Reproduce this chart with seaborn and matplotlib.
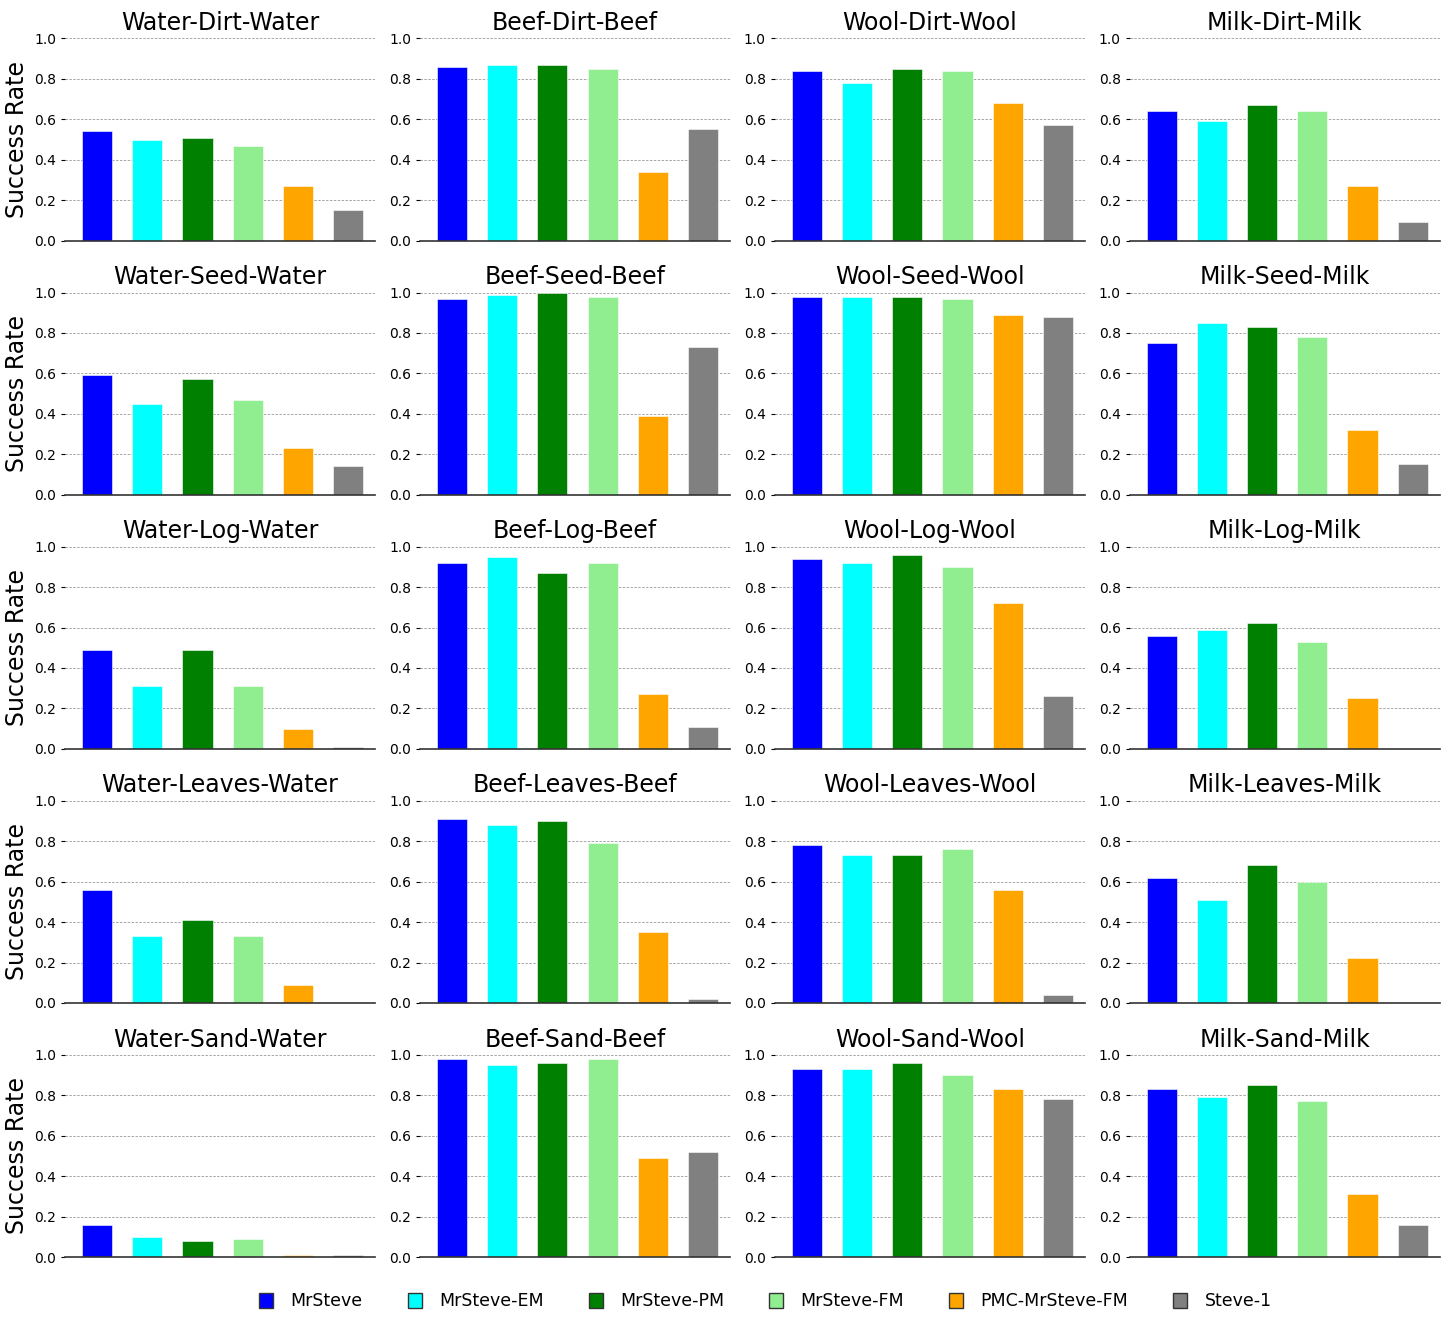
import numpy as np
import pandas as pd
import seaborn as sns
import matplotlib.pyplot as plt
from matplotlib.patches import Patch

methods = ['MrSteve', 'MrSteve-EM', 'MrSteve-PM', 'MrSteve-FM', 'PMC-MrSteve-FM', 'Steve-1']
colors = ['blue', 'cyan', 'green', 'lightgreen', 'orange', 'gray']

row_items = ['Water', 'Beef', 'Wool', 'Milk']
mid_items = ['Dirt', 'Seed', 'Log', 'Leaves', 'Sand']

# 成功率 (行: 中間アイテム, 列: 対象)
dirt_vals = [
    [0.54, 0.50, 0.51, 0.47, 0.27, 0.15],
    [0.86, 0.87, 0.87, 0.85, 0.34, 0.55],
    [0.84, 0.78, 0.85, 0.84, 0.68, 0.57],
    [0.64, 0.59, 0.67, 0.64, 0.27, 0.09],
]
seed_vals = [
    [0.59, 0.45, 0.57, 0.47, 0.23, 0.14],
    [0.97, 0.99, 1.00, 0.98, 0.39, 0.73],
    [0.98, 0.98, 0.98, 0.97, 0.89, 0.88],
    [0.75, 0.85, 0.83, 0.78, 0.32, 0.15],
]
log_vals = [
    [0.49, 0.31, 0.49, 0.31, 0.10, 0.01],
    [0.92, 0.95, 0.87, 0.92, 0.27, 0.11],
    [0.94, 0.92, 0.96, 0.90, 0.72, 0.26],
    [0.56, 0.59, 0.62, 0.53, 0.25, 0.00],
]
leaves_vals = [
    [0.56, 0.33, 0.41, 0.33, 0.09, 0.00],
    [0.91, 0.88, 0.90, 0.79, 0.35, 0.02],
    [0.78, 0.73, 0.73, 0.76, 0.56, 0.04],
    [0.62, 0.51, 0.68, 0.60, 0.22, 0.00],
]
sand_vals = [
    [0.16, 0.10, 0.08, 0.09, 0.01, 0.01],
    [0.98, 0.95, 0.96, 0.98, 0.49, 0.52],
    [0.93, 0.93, 0.96, 0.90, 0.83, 0.78],
    [0.83, 0.79, 0.85, 0.77, 0.31, 0.16],
]
all_vals = [dirt_vals, seed_vals, log_vals, leaves_vals, sand_vals]

sns.set_style('white')
plt.rcParams['font.family'] = ['DejaVu Sans']
plt.rcParams['text.color'] = 'black'
plt.rcParams['axes.labelcolor'] = 'black'
plt.rcParams['ytick.color'] = 'black'

fig, axes = plt.subplots(5, 4, figsize=(14.47, 13.26), dpi=100)
fig.subplots_adjust(left=0.045, right=0.995, top=0.971, bottom=0.052,
                    wspace=0.145, hspace=0.257)

for i, mid in enumerate(mid_items):
    for j, item in enumerate(row_items):
        ax = axes[i, j]
        df = pd.DataFrame({'method': methods, 'rate': all_vals[i][j]})
        sns.barplot(data=df, x='method', y='rate', hue='method', palette=colors,
                    order=methods, hue_order=methods, legend=False, width=0.6,
                    saturation=1, edgecolor='white', linewidth=0.4, ax=ax)
        ax.set_title(f'{item}-{mid}-{item}', fontsize=17, pad=6)
        ax.set_ylim(0, 1.0)
        ax.set_xlim(-0.64, 5.54)
        ax.set_yticks([0.0, 0.2, 0.4, 0.6, 0.8, 1.0])
        ax.set_yticklabels(['0.0', '0.2', '0.4', '0.6', '0.8', '1.0'], fontsize=10)
        ax.set_xticks([])
        ax.set_xlabel('')
        ax.set_ylabel('Success Rate' if j == 0 else '', fontsize=17)
        ax.grid(axis='y', linestyle=(0, (2.5, 1.5)), color='gray', linewidth=0.7, alpha=0.7)
        ax.set_axisbelow(True)
        for s in ['top', 'right', 'left']:
            ax.spines[s].set_visible(False)
        ax.spines['bottom'].set_color('#333333')
        ax.spines['bottom'].set_linewidth(1.2)
        ax.tick_params(axis='y', length=3, width=0.8, left=True, colors='black')

handles = [Patch(facecolor=c, edgecolor='#333333', label=m) for m, c in zip(methods, colors)]
fig.legend(handles=handles, loc='lower center', ncol=6, frameon=False,
           bbox_to_anchor=(0.529, 0.0), handlelength=0.8,
           handleheight=1.0, columnspacing=2.6, handletextpad=1.0,
           prop={'family': ['DejaVu Sans'], 'size': 12.5})

fig.savefig('out.png', dpi=100)
